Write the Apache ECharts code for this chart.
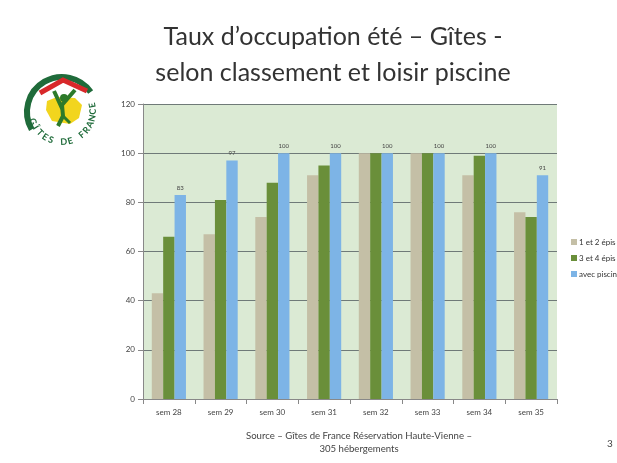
<!DOCTYPE html>
<html>
<head>
<meta charset="utf-8">
<script src="https://cdn.jsdelivr.net/npm/echarts@6/dist/echarts.min.js"></script>
<style>
html, body { margin: 0; padding: 0; background: #fff; }
#chart { width: 617px; height: 463px; }
</style>
</head>
<body>
<div id="chart"></div>
<script>
var semaines = ['sem 28', 'sem 29', 'sem 30', 'sem 31', 'sem 32', 'sem 33', 'sem 34', 'sem 35'];
var epis12 = [43, 67, 74, 91, 100, 100, 91, 76];
var epis34 = [66, 81, 88, 95, 100, 100, 99, 74];
var piscine = [83, 97, 100, 100, 100, 100, 100, 91];
var yTicks = [0, 20, 40, 60, 80, 100, 120];

var chart = echarts.init(document.getElementById('chart'));

// logo Gîtes de France (approximatif)
var logoVert = '#1f6b3a';
var logo = [
    { type: 'arc', shape: { cx: 62, cy: 112, r: 35, startAngle: 150 * Math.PI / 180, endAngle: 325 * Math.PI / 180, clockwise: true },
      style: { stroke: logoVert, lineWidth: 6, fill: null } },
    { type: 'polygon', shape: { points: [[47, 101], [57, 97], [75, 98], [82, 105], [79, 118], [70, 124], [52, 121], [46, 110]] },
      style: { fill: '#f2d51e' } },
    { type: 'polyline', shape: { points: [[40, 93], [63, 80], [87, 91]] },
      style: { stroke: '#d8282a', lineWidth: 5, fill: null } },
    { type: 'polyline', shape: { points: [[54, 91], [61, 106], [75, 90]] },
      style: { stroke: '#2d7a2a', lineWidth: 4, fill: null } },
    { type: 'polyline', shape: { points: [[58, 126], [63, 116], [62, 105]] },
      style: { stroke: '#2d7a2a', lineWidth: 4, fill: null } },
    { type: 'polyline', shape: { points: [[63, 116], [70, 123]] },
      style: { stroke: '#2d7a2a', lineWidth: 3, fill: null } },
    { type: 'circle', shape: { cx: 64, cy: 98, r: 4 }, style: { fill: '#2d7a2a' } }
];
var lettres = 'GÎTES DE FRANCE'.split('');
lettres.forEach(function (c, i) {
    var a = (160 - i * 12.2) * Math.PI / 180;
    logo.push({
        type: 'text',
        x: 62 + 31 * Math.cos(a), y: 111 + 31 * Math.sin(a),
        rotation: Math.PI / 2 - a,
        style: { text: c, fill: logoVert, font: 'bold 9px Lato', align: 'center', verticalAlign: 'middle' }
    });
});

var option = {
    backgroundColor: '#ffffff',
    title: [
        {
            text: 'Taux d\u2019occupation été – Gîtes -\nselon classement et loisir piscine',
            left: 328, top: 14, textAlign: 'center',
            textStyle: { fontFamily: 'Lato', fontWeight: 'normal', fontSize: 25, color: '#333', lineHeight: 36 }
        },
        {
            text: 'Source – Gîtes de France Réservation Haute-Vienne –\n305 hébergements',
            left: 354, top: 424, textAlign: 'center',
            textStyle: { fontFamily: 'Lato', fontWeight: 'normal', fontSize: 9.6, color: '#444', lineHeight: 13 }
        },
        {
            text: '3', left: 602, top: 434,
            textStyle: { fontFamily: 'Lato', fontWeight: 'normal', fontSize: 10, color: '#444' }
        }
    ],
    graphic: logo,
    legend: {
        orient: 'vertical', left: 566, top: 233,
        itemWidth: 6, itemHeight: 6, itemGap: 8, icon: 'rect',
        textStyle: { fontFamily: 'Lato', fontSize: 8, color: '#333', padding: [0, 0, 0, -3] },
        data: ['1 et 2 épis', '3 et 4 épis', 'avec piscine']
    },
    grid: { left: 143, right: 60, top: 104, bottom: 64, backgroundColor: '#dbead4', show: true, borderWidth: 0 },
    xAxis: {
        type: 'category', data: semaines,
        axisLine: { lineStyle: { color: '#888' } },
        axisTick: { show: true, lineStyle: { color: '#888' } },
        axisLabel: { fontFamily: 'Lato', fontSize: 8, color: '#444', margin: 9 }
    },
    yAxis: {
        type: 'value', min: yTicks[0], max: yTicks[yTicks.length - 1], interval: 20,
        axisLine: { show: true, lineStyle: { color: '#888' } },
        axisTick: { show: true, lineStyle: { color: '#888' } },
        axisLabel: { fontFamily: 'Lato', fontSize: 8, color: '#444', margin: 8 },
        splitLine: { lineStyle: { color: '#6f7a78', width: 1 } }
    },
    series: [
        { name: '1 et 2 épis', type: 'bar', data: epis12, barGap: '0%', barCategoryGap: '34%',
          itemStyle: { color: '#c4bfa6' } },
        { name: '3 et 4 épis', type: 'bar', data: epis34,
          itemStyle: { color: '#6a8f3a' } },
        { name: 'avec piscine', type: 'bar', data: piscine,
          itemStyle: { color: '#7db4e6' },
          label: { show: true, position: 'top', fontFamily: 'Lato', fontSize: 6, color: '#444', distance: 4 } }
    ]
};

chart.setOption(option);
</script>
</body>
</html>
